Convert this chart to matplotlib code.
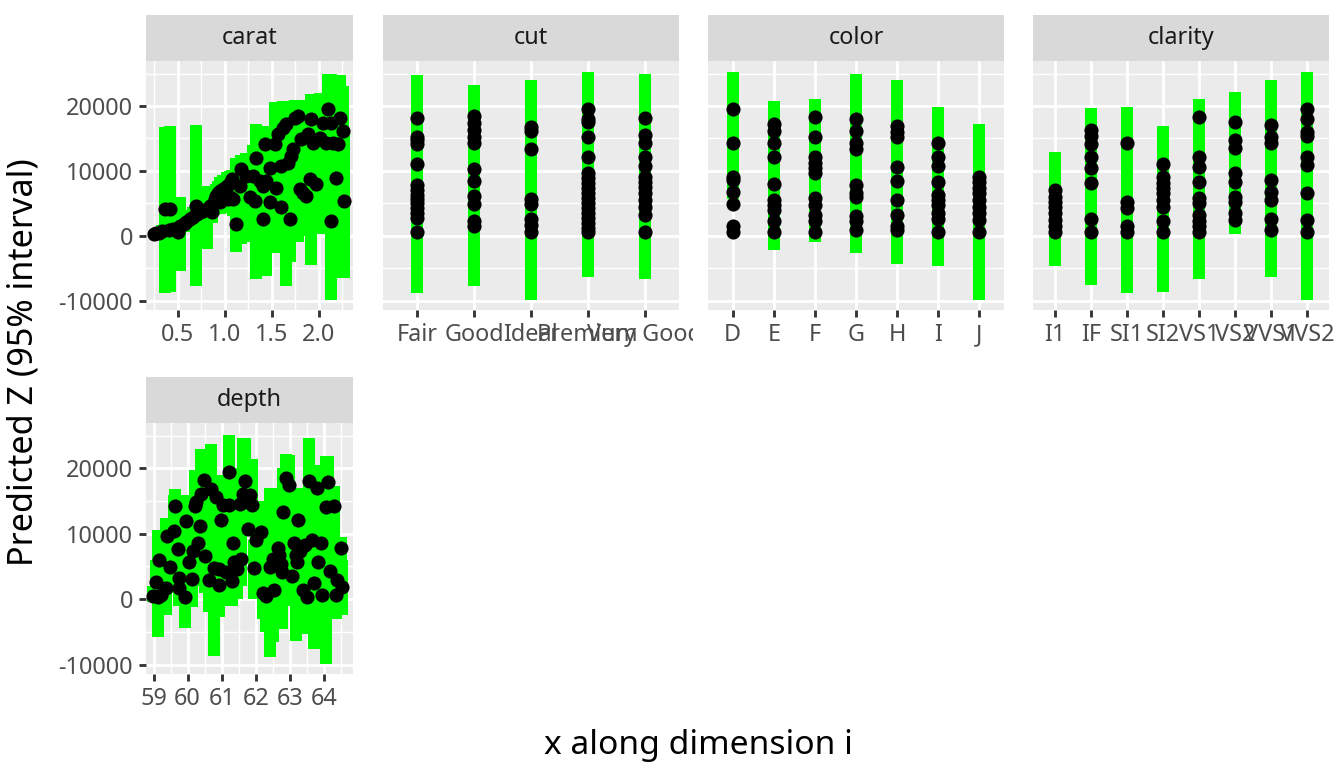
import matplotlib
matplotlib.use("Agg")
import matplotlib.pyplot as plt
from matplotlib.transforms import Bbox

plt.rcParams['font.family'] = ['Noto Sans', 'DejaVu Sans']

# ---------------- data ----------------
# carat panel: point x, predicted value, lower, upper
carat_x = [0.24, 0.27, 0.30, 0.33, 0.36, 0.42, 0.40, 0.45, 0.50, 0.52, 0.56, 0.59, 0.63, 0.66,
           0.69, 0.70, 0.73, 0.77, 0.81, 0.84, 0.88, 0.89, 0.91, 0.93, 0.95, 0.98, 1.02, 1.05,
           1.08, 0.86, 0.95, 1.03, 1.06, 1.12, 1.09,
           1.177, 1.160, 1.230, 1.266, 1.301, 1.319, 1.337, 1.372, 1.408, 1.443, 1.408, 1.479,
           1.486, 1.426, 1.532, 1.550, 1.603, 1.567, 1.621, 1.656, 1.603, 1.674, 1.691, 1.727,
           1.709, 1.745, 1.780, 1.798, 1.833, 1.816, 1.869, 1.887, 1.904, 1.922, 1.940, 1.975,
           2.011, 2.046, 2.082, 2.099, 2.135, 2.152, 2.188, 2.206, 2.223, 2.259, 2.266, 2.135]
carat_y = [250, 400, 500, 700, 4100, 4200, 900, 1100, 600, 1500, 1800, 2150, 2550, 2950,
           4600, 3300, 3600, 3850, 4200, 4600, 5100, 5600, 6150, 6550, 6900, 7200, 7700, 8200,
           8700, 3600, 5200, 5600, 6000, 1800, 5700,
           10260, 7690, 9230, 5900, 9230, 5385, 12050, 8460, 7690, 8460, 2560, 10510,
           5130, 14200, 14200, 7440, 4360, 15640, 16670, 17180, 10770, 11280, 2560, 13330,
           12310, 18200, 18460, 7180, 6670, 14870, 6150, 15640, 8720, 17950, 14360, 7950,
           15130, 17440, 14360, 19490, 17440, 14360, 8970, 14100, 18200, 16150, 5385, 2310]
carat_lo = [-300, -200, -300, -200, -8800, -8700, 0, 200, -500, -5500, 600, 800, 1200, 1500,
            -7800, 1800, 2000, 2200, -2000, 2800, 3200, 3500, 4000, 4200, 4500, 4800, 5000, 5500,
            6000, 2000, 3300, 3600, 3500, -2500, 3000,
            -1300, 3000, -1000, 1000, 2000, 0, -6700, 1500, 2000, -6200, -3000, 4000,
            -1000, 8000, -2600, 2000, -2000, 10000, 11000, -7700, 4000, 5000, -4000, 6000,
            5000, 14000, -1000, 1000, 0, 8000, 0, 9000, 1000, -4460, 7000, 260,
            260, 10000, 5000, 12000, -9900, 5000, 1000, 6000, 1500, -6500, -6500, -9900]
carat_hi = [800, 1000, 1300, 1600, 16800, 16900, 1800, 2000, 1500, 6000, 3000, 3500, 3900, 4400,
            17100, 4800, 5200, 5500, 7600, 6500, 7000, 7600, 8000, 8500, 9000, 9300, 9800, 10000,
            10200, 5200, 7000, 8000, 9000, 12000, 9500,
            12500, 12000, 12800, 11000, 14000, 11000, 17200, 15000, 14000, 17000, 9000, 17000,
            12000, 17000, 20600, 14000, 11000, 20600, 20800, 20800, 17000, 18000, 9000, 20000,
            19000, 20900, 20900, 14000, 13000, 20000, 15000, 21000, 16000, 21800, 21000, 15000,
            22000, 22000, 22000, 25000, 25000, 24800, 17000, 24800, 24800, 23100, 16000, 12000]

# depth panel
depth_x = [58.98, 59.13, 59.22, 59.37, 59.08, 59.16, 59.39, 59.49, 59.61, 59.64, 59.71, 59.76,
           59.76, 59.91, 59.96, 60.03, 60.12, 60.15, 60.23, 60.25, 60.30, 60.35, 60.39, 60.47,
           60.52, 60.64, 60.69, 60.78, 60.83, 60.91, 60.98, 60.93, 61.03, 61.12, 61.20, 61.22,
           61.34, 61.30, 61.37, 61.44, 61.53, 61.56, 61.61, 61.69, 61.76, 61.83, 61.90, 62.00,
           62.15, 61.95, 62.20, 62.29, 62.41, 62.49, 62.54, 62.64, 62.68, 62.73, 62.78, 62.80,
           62.88, 62.96, 63.05, 63.12, 63.17, 63.22, 63.25, 63.29, 63.37, 63.44, 63.51, 63.56,
           63.66, 63.71, 63.78, 63.83, 63.90, 63.93, 64.05, 64.13, 64.19, 64.29, 64.34, 64.39,
           64.49, 64.54]
depth_y = [513, 359, 615, 1641, 2667, 6000, 9590, 4974, 10462, 14205, 7692, 3179,
           1744, 359, 12000, 5744, 3077, 7385, 14308, 14872, 8564, 11128, 16103, 18154,
           6667, 2923, 16923, 4821, 15590, 2154, 12154, 4615, 14462, 4205, 14462, 19487,
           8564, 2769, 5744, 4615, 14564, 6154, 16103, 18051, 10718, 16000, 14462, 9077,
           10205, 4821, 872, 513, 4974, 6154, 1385, 7897, 6769, 5333, 4205, 13333,
           18462, 17436, 3590, 8564, 6769, 5641, 12154, 7385, 1385, 8308, 359, 18051,
           9077, 2410, 17026, 5744, 8564, 615, 14051, 17949, 4308, 14205, 615, 2923,
           7897, 1897]
depth_lo = [-500, -5800, -1000, -2360, 0, 2000, 5000, 1000, 5000, 8000, 2000, -1000,
            -1000, -4360, 6000, -1180, -1180, 2000, 9000, 8000, 2000, 5000, 10000, 12000,
            1000, -2000, 9000, -8700, 9000, -2700, 6000, -2700, 8000, -1000, 9000, 13000,
            3000, -1000, 0, 0, 9000, 2000, 10000, 11000, 11000, 11000, 11000, 5000,
            4000, 0, -3000, -5000, -8870, -6560, -4000, 1000, 0, -1000, -4510, 6000,
            12000, 10000, -1000, 2000, -6400, 0, 6000, 1000, -3000, 2000, -5280, 11000,
            2000, -7600, 10000, 0, 2000, -5000, -9900, 10000, -2000, 8000, -3000, -2000,
            3000, -2360]
depth_hi = [2000, 10600, 3000, 12400, 6000, 10600, 12400, 9000, 16000, 16900, 12000, 8000,
            5000, 5300, 15900, 10000, 8000, 13000, 19700, 19700, 14000, 17000, 23000, 23000,
            13000, 8000, 23800, 12000, 19000, 8000, 17000, 10000, 19000, 10000, 25100, 25100,
            14000, 7000, 12000, 9000, 20000, 10000, 24700, 24700, 16000, 21500, 21500, 13000,
            15000, 9000, 4000, 6000, 17000, 17000, 7000, 15000, 13000, 11000, 10000, 20000,
            22150, 22000, 9000, 15000, 17000, 12000, 17000, 14000, 6000, 14000, 7000, 24700,
            16000, 10000, 20600, 12000, 15000, 6000, 21900, 21900, 10000, 17280, 6000, 8000,
            9500, 6000]

# categorical panels: predicted values per level and interval extent per level
cut_levels = ["Fair", "Good", "Ideal", "Premium", "Very Good"]
cut_points = [
    [18100, 15280, 14770, 14150, 11080, 7846, 7077, 6308, 5641, 5026, 4256, 3487, 2718, 564],
    [18460, 17440, 16310, 15280, 14260, 10260, 8460, 6150, 4920, 2200, 1440],
    [16820, 16200, 13380, 5640, 4920, 2560, 1690, 560],
    [19540, 17950, 17590, 15280, 12200, 9640, 8870, 8100, 7330, 6560, 5800, 5030, 4260,
     3490, 2720, 1950, 1180, 560],
    [18100, 15540, 14260, 12200, 10770, 9130, 8360, 7590, 6560, 5540, 4510, 3230, 560],
]
cut_lo = [-8820, -7690, -9850, -6410, -6620]
cut_hi = [24770, 23230, 24000, 25280, 24920]

color_levels = ["D", "E", "F", "G", "H", "I", "J"]
color_points = [
    [19540, 14260, 9130, 8620, 6820, 4920, 1440, 560],
    [17180, 16200, 14360, 12200, 8000, 5540, 4770, 4000, 2200, 560],
    [18360, 15280, 12200, 11180, 10410, 9640, 5800, 4770, 3230, 2200, 560],
    [17950, 16200, 14260, 13330, 7850, 6560, 6050, 2970, 2200, 920],
    [16920, 16050, 15280, 10670, 8460, 5540, 3230, 1440, 920],
    [14360, 12200, 10770, 8360, 6310, 5540, 4770, 3490, 2560, 560],
    [9130, 8360, 7330, 6560, 5540, 4510, 3490, 2460, 560],
]
color_lo = [5640, -2260, -1030, -2670, -4310, -4620, -9850]
color_hi = [25280, 20770, 21030, 24870, 24000, 19790, 17230]

clarity_levels = ["I1", "IF", "SI1", "SI2", "VS1", "VS2", "VVS1", "VVS2"]
clarity_points = [
    [7080, 6050, 5280, 4510, 3490, 2460, 1440, 560],
    [16310, 15380, 14150, 12200, 10410, 8100, 2560, 560],
    [14260, 5280, 4260, 1440, 560],
    [11080, 9130, 8200, 7330, 6560, 5540, 4510, 2200, 560],
    [18260, 12200, 10670, 8360, 5800, 5030, 3230, 2200, 1440, 560],
    [17590, 14770, 13490, 9640, 8360, 6050, 5280, 3490, 2460],
    [17080, 15280, 14260, 8620, 6820, 5540, 2560, 920],
    [19540, 17950, 16050, 15380, 12200, 10920, 6670, 2460, 560],
]
clarity_lo = [-4620, -7540, -8820, -8670, -6620, 310, -6410, -9850]
clarity_hi = [12970, 19740, 19790, 16970, 21030, 22200, 24000, 25280]

y_ticks = [-10000, 0, 10000, 20000]
y_ticklabels = ["-10000", "0", "10000", "20000"]
y_minor = [-5000, 5000, 15000, 25000]
carat_ticks = [0.5, 1.0, 1.5, 2.0]
carat_ticklabels = ["0.5", "1.0", "1.5", "2.0"]
carat_minor = [0.25, 0.75, 1.25, 1.75, 2.25]
depth_ticks = [59, 60, 61, 62, 63, 64]
depth_ticklabels = ["59", "60", "61", "62", "63", "64"]
depth_minor = [59.5, 60.5, 61.5, 62.5, 63.5, 64.5]

# ---------------- figure ----------------
W, H = 1344, 768
DPI = 192
fig = plt.figure(figsize=(W / DPI, H / DPI), dpi=DPI)

GREEN = '#00FF00'
PANEL_BG = '#EBEBEB'
STRIP_BG = '#D9D9D9'
BAR_LW = 4.5
PT_SIZE = 5.3
YLIM = (-11450, 26950)


def box(l, t, r, b):
    return [l / W, 1 - b / H, (r - l) / W, (b - t) / H]


def panel(l, t, r, b, label, show_y):
    sax = fig.add_axes(box(l, t - 46, r, t))
    sax.set_facecolor(STRIP_BG)
    sax.set_xticks([])
    sax.set_yticks([])
    for s in sax.spines.values():
        s.set_visible(False)
    sax.text(0.5, 0.5, label, ha='center', va='center', fontsize=8.8,
             color='#1A1A1A', transform=sax.transAxes)

    ax = fig.add_axes(box(l, t, r, b))
    ax.set_facecolor(PANEL_BG)
    for s in ax.spines.values():
        s.set_visible(False)
    ax.set_axisbelow(True)
    ax.grid(True, which='major', color='white', lw=1.07)
    ax.grid(True, which='minor', color='white', lw=0.53)
    ax.tick_params(which='major', length=2.75, width=1.07, color='#333333',
                   labelcolor='#4D4D4D', labelsize=8.8, pad=2.2)
    ax.tick_params(which='minor', length=0)
    ax.set_ylim(*YLIM)
    ax.set_yticks(y_ticks)
    ax.set_yticks(y_minor, minor=True)
    if show_y:
        ax.set_yticklabels(y_ticklabels)
    else:
        ax.tick_params(axis='y', which='both', left=False, labelleft=False)
    return ax


# carat
ax = panel(146, 61, 353, 310, "carat", True)
ax.vlines(carat_x, carat_lo, carat_hi, color=GREEN, lw=BAR_LW, capstyle='butt')
ax.plot(carat_x, carat_y, 'o', color='black', ms=PT_SIZE, mew=0)
ax.set_xlim(0.16, 2.365)
ax.set_xticks(carat_ticks)
ax.set_xticklabels(carat_ticklabels)
ax.set_xticks(carat_minor, minor=True)

# depth
ax = panel(146, 423, 353, 674, "depth", True)
ax.vlines(depth_x, depth_lo, depth_hi, color=GREEN, lw=BAR_LW, capstyle='butt')
ax.plot(depth_x, depth_y, 'o', color='black', ms=PT_SIZE, mew=0)
ax.set_xlim(58.78, 64.85)
ax.set_xticks(depth_ticks)
ax.set_xticklabels(depth_ticklabels)
ax.set_xticks(depth_minor, minor=True)


def cat_panel(l, r, label, levels, points, lo, hi, clip_right=None):
    ax = panel(l, 61, r, 310, label, False)
    pos = list(range(len(levels)))
    ax.vlines(pos, lo, hi, color=GREEN, lw=BAR_LW, capstyle='butt')
    for i, vals in enumerate(points):
        ax.plot([i] * len(vals), vals, 'o', color='black', ms=PT_SIZE, mew=0)
    ax.set_xlim(-0.6, len(levels) - 0.4)
    ax.set_xticks(pos)
    labels = ax.set_xticklabels(levels)
    ax.xaxis.set_minor_locator(matplotlib.ticker.NullLocator())
    if clip_right is not None:
        cb = Bbox.from_extents(0, 0, clip_right, H)
        for t in labels:
            t.set_clip_box(cb)
            t.set_clip_on(True)
    return ax


cat_panel(383, 679, "cut", cut_levels, cut_points, cut_lo, cut_hi, clip_right=693)
cat_panel(708, 1004, "color", color_levels, color_points, color_lo, color_hi)
cat_panel(1033, 1329, "clarity", clarity_levels, clarity_points, clarity_lo, clarity_hi)

fig.text(24 / W, 1 - 362 / H, "Predicted Z (95% interval)", rotation=90,
         ha='center', va='center', fontsize=12.8, color='black')
fig.text(698 / W, 1 - 746 / H, "x along dimension i", ha='center', va='center',
         fontsize=12.6, color='black')

fig.savefig("out.png", dpi=DPI, facecolor='white')
